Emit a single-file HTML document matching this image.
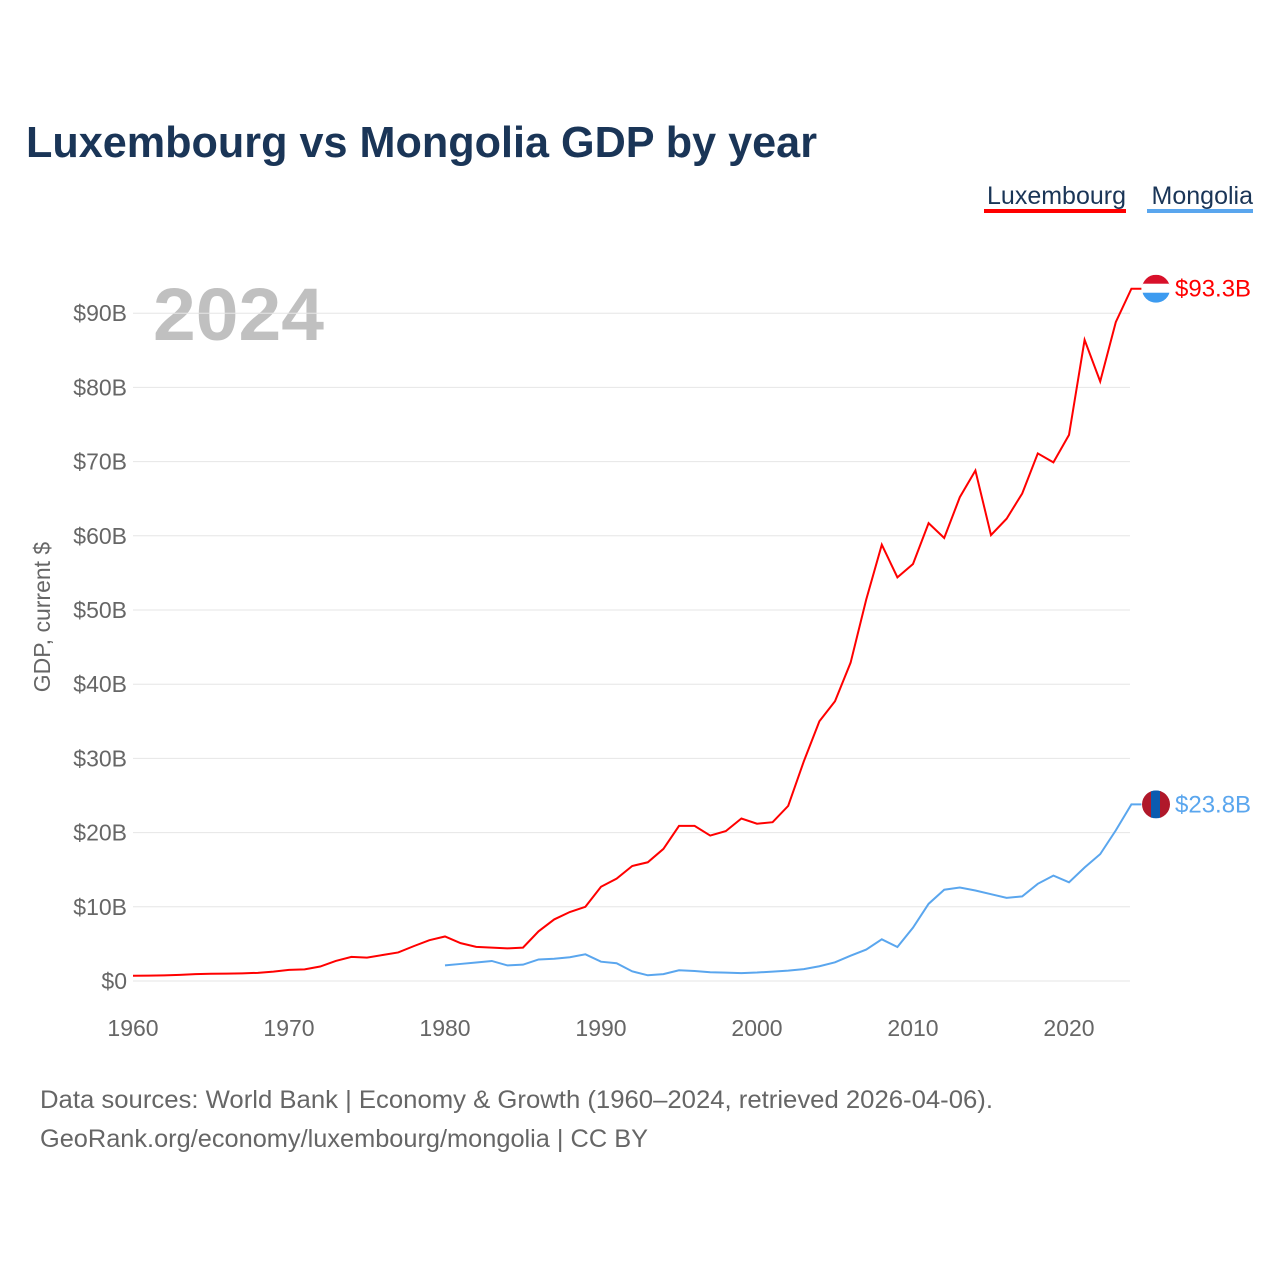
<!DOCTYPE html>
<html><head><meta charset="utf-8"><style>
body{margin:0;background:#fff;width:1280px;height:1280px;overflow:hidden;font-family:"Liberation Sans",sans-serif}
</style></head><body>
<svg width="1280" height="1280" font-family="Liberation Sans, sans-serif">
<text x="26" y="157" font-size="44" font-weight="bold" fill="#1a3557" textLength="791" lengthAdjust="spacingAndGlyphs">Luxembourg vs Mongolia GDP by year</text>
<g><text x="1126" y="204" text-anchor="end" font-size="25" fill="#1a3557">Luxembourg</text><rect x="984" y="209" width="142" height="4" fill="#ff0000"/></g>
<g><text x="1253" y="204" text-anchor="end" font-size="25" fill="#1a3557">Mongolia</text><rect x="1147" y="209" width="106" height="4" fill="#5aa6ee"/></g>
<text x="153" y="340" font-size="74" font-weight="bold" fill="#c0c0c0" textLength="171" lengthAdjust="spacingAndGlyphs">2024</text>
<text transform="translate(50,617) rotate(-90)" text-anchor="middle" font-size="23" fill="#666">GDP, current $</text>
<g id="grid"></g><g id="yt"></g><g id="xt"></g><g id="lines"></g>
<text x="40" y="1108" font-size="25" fill="#666" textLength="953" lengthAdjust="spacingAndGlyphs">Data sources: World Bank | Economy &amp; Growth (1960–2024, retrieved 2026-04-06).</text>
<text x="40" y="1147" font-size="25" fill="#666" textLength="608" lengthAdjust="spacingAndGlyphs">GeoRank.org/economy/luxembourg/mongolia | CC BY</text>
</svg>
<script>
const lux=[0.7,0.72,0.76,0.83,0.93,0.97,1.0,1.03,1.1,1.27,1.5,1.57,1.95,2.7,3.25,3.15,3.5,3.85,4.7,5.5,6.0,5.1,4.6,4.5,4.4,4.5,6.7,8.3,9.3,10.0,12.7,13.8,15.5,16.0,17.8,20.9,20.9,19.6,20.2,21.9,21.2,21.4,23.6,29.6,35.0,37.7,42.9,51.4,58.8,54.4,56.2,61.7,59.7,65.2,68.8,60.1,62.3,65.7,71.1,69.9,73.6,86.4,80.8,88.8,93.3];
const mng=[2.1,2.3,2.5,2.7,2.1,2.2,2.9,3.0,3.2,3.6,2.6,2.4,1.3,0.77,0.93,1.45,1.34,1.18,1.13,1.06,1.14,1.27,1.4,1.6,1.99,2.52,3.41,4.23,5.62,4.58,7.19,10.4,12.3,12.6,12.2,11.7,11.2,11.4,13.1,14.2,13.3,15.3,17.1,20.3,23.8];
const yTicks=[0,10,20,30,40,50,60,70,80,90];
const xTicks=[1960,1970,1980,1990,2000,2010,2020];
const ns="http://www.w3.org/2000/svg";
const X=y=>133+(y-1960)*15.6, Y=v=>981-v*7.42;
function mk(t,a,p){const e=document.createElementNS(ns,t);for(const k in a)e.setAttribute(k,a[k]);document.getElementById(p).appendChild(e);return e;}
yTicks.forEach(v=>{
 const g=mk('line',{x1:133,x2:1130,y1:Y(v),y2:Y(v),stroke:'#e6e6e6','stroke-width':1},'grid');
 
 
 const t=mk('text',{x:127,y:Y(v)+8,'text-anchor':'end','font-size':23,fill:'#666'},'yt');t.textContent='$'+v+(v?'B':'');
 
 
});
xTicks.forEach(y=>{
 const t=mk('text',{x:X(y),y:1036,'text-anchor':'middle','font-size':23,fill:'#666'},'xt');t.textContent=y;
 
 
});
function series(arr,start,col,name,flag){
 const pts=arr.map((v,i)=>X(start+i)+','+Y(v));
 const last=arr[arr.length-1],ly=Y(last),lx=X(start+arr.length-1);
 const p=mk('polyline',{points:pts.join(' ')+' '+(lx+10)+','+ly,fill:'none',stroke:col,'stroke-width':2},'lines');
 
 
 const g=mk('g',{},'lines');
 
 
 const cx=1156;
 const cp=document.createElementNS(ns,'clipPath');cp.setAttribute('id','c'+name);const c=document.createElementNS(ns,'circle');c.setAttribute('cx',cx);c.setAttribute('cy',ly);c.setAttribute('r',14);cp.appendChild(c);g.appendChild(cp);
 const inner=document.createElementNS(ns,'g');inner.setAttribute('clip-path','url(#c'+name+')');g.appendChild(inner);
 flag.forEach(f=>{const r=document.createElementNS(ns,'rect');r.setAttribute('x',cx-14+f[0]);r.setAttribute('y',ly-14+f[1]);r.setAttribute('width',f[2]);r.setAttribute('height',f[3]);r.setAttribute('fill',f[4]);inner.appendChild(r);});
 const t=mk('text',{x:1175,y:ly+8,'font-size':24,fill:col},'lines');t.textContent='$'+last.toFixed(1)+'B';
 
 
}
series(lux,1960,'#ff0000','luxembourg',[[0,0,28,10,'#d8102a'],[0,9,28,10,'#fff'],[0,18,28,10,'#3d9bf0']]);
series(mng,1980,'#5aa6ee','mongolia',[[0,0,10,28,'#b0182a'],[9,0,10,28,'#0a5bb0'],[18,0,10,28,'#b0182a']]);
</script>
</body></html>
